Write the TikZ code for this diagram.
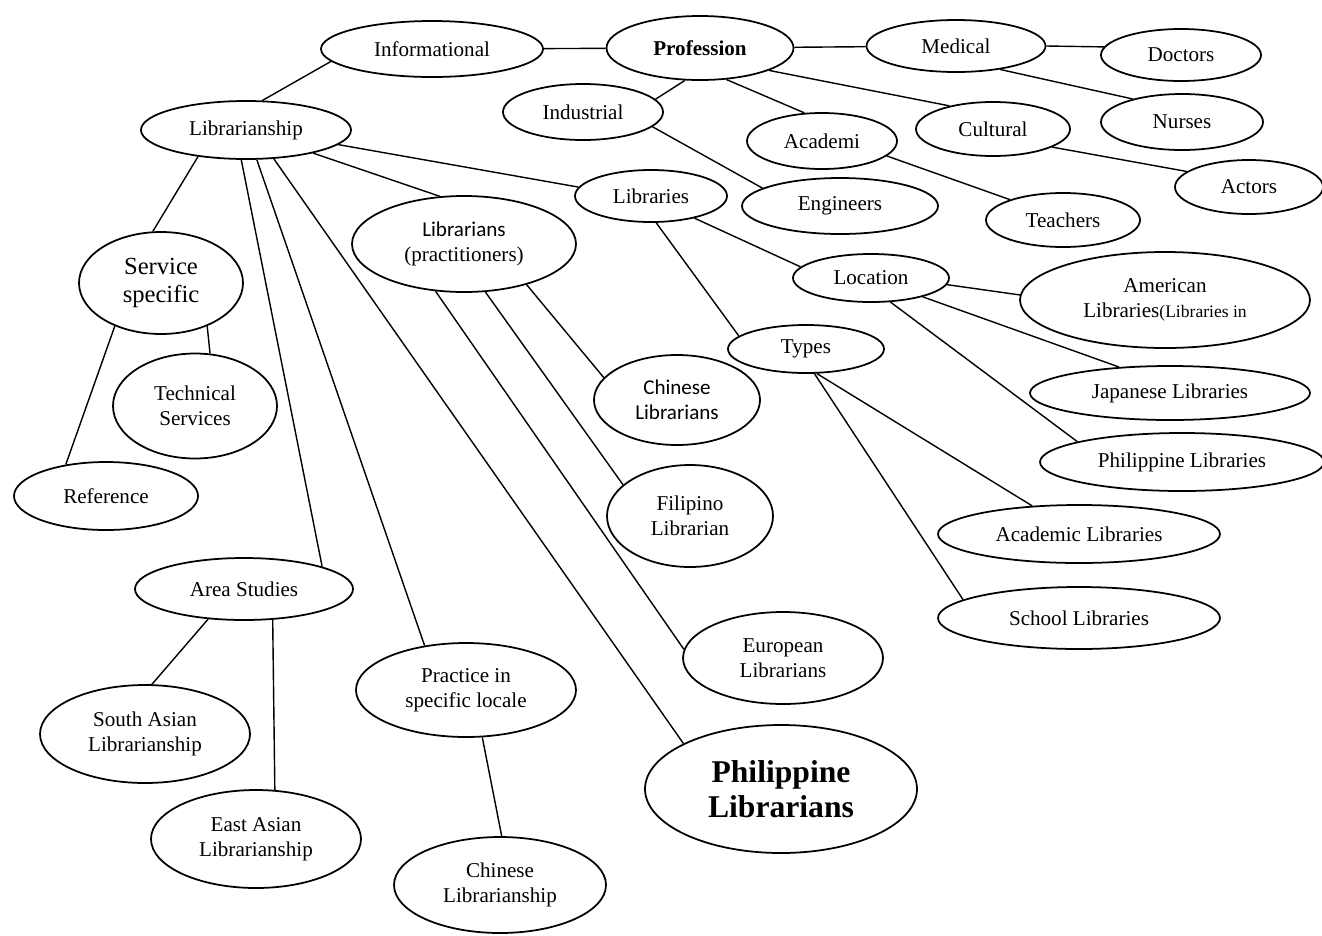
\documentclass[tikz,border=0pt]{standalone}
\usepackage{fontspec}
\setmainfont{Liberation Serif}
\newfontfamily\calib{Carlito}
\usetikzlibrary{shapes.geometric}

\begin{document}
\begin{tikzpicture}[
        every node/.style={align=center},
        bub/.style={draw, ellipse, line width=1pt, inner sep=0pt,
        font=\fontsize{12}{14}\selectfont},
        link/.style={line width=0.8pt}
      ]
    \useasboundingbox (0,0) rectangle (26.44,-18.7);
    % top row
    \node[bub, minimum width=4.44cm, minimum height=1.12cm] (info) at (8.64,-0.98) {Informational};
    \node[bub, minimum width=3.74cm, minimum height=1.28cm] (prof) at (14.0,-0.96) {\textbf{Profession}};
    \node[bub, minimum width=3.58cm, minimum height=1.04cm] (med) at (19.12,-0.92) {Medical};
    \node[bub, minimum width=3.2cm, minimum height=1.04cm] (doc) at (23.62,-1.10) {Doctors};
    \node[bub, minimum width=3.24cm, minimum height=1.12cm] (nurse) at (23.64,-2.44) {Nurses};
    \node[bub, minimum width=3.2cm, minimum height=1.12cm] (ind) at (11.66,-2.24) {Industrial};
    \node[bub, minimum width=3.0cm, minimum height=1.12cm] (acad) at (16.44,-2.82) {Academi};
    \node[bub, minimum width=3.08cm, minimum height=1.08cm] (cult) at (19.86,-2.58) {Cultural};
    \node[bub, minimum width=2.96cm, minimum height=1.08cm] (act) at (24.98,-3.74) {Actors};
    \node[bub, minimum width=3.92cm, minimum height=1.12cm] (eng) at (16.8,-4.12) {Engineers};
    \node[bub, minimum width=3.08cm, minimum height=1.08cm] (teach) at (21.26,-4.4) {Teachers};
    % librarianship branch
    \node[bub, minimum width=4.2cm, minimum height=1.16cm] (lship) at (4.92,-2.6) {Librarianship};
    \node[bub, minimum width=3.04cm, minimum height=1.04cm] (libs) at (13.02,-3.92) {Libraries};
    \node[bub, minimum width=4.48cm, minimum height=1.92cm] (lians) at (9.28,-4.88)
    {{\calib Librarians}\\(practitioners)};
    \node[bub, minimum width=3.12cm, minimum height=0.96cm] (loc) at (17.42,-5.56) {Location};
    \node[bub, minimum width=5.8cm, minimum height=1.92cm] (amer) at (23.3,-6.0)
    {American\\Libraries{\fontsize{10}{12}\selectfont(Libraries in}};
    \node[bub, minimum width=3.12cm, minimum height=0.96cm] (types) at (16.12,-6.98) {Types};
    \node[bub, minimum width=5.6cm, minimum height=1.08cm] (jap) at (23.4,-7.86) {Japanese Libraries};
    \node[bub, minimum width=5.68cm, minimum height=1.16cm] (phl) at (23.64,-9.24) {Philippine Libraries};
    \node[bub, minimum width=5.64cm, minimum height=1.16cm] (acl) at (21.58,-10.68) {Academic Libraries};
    \node[bub, minimum width=5.64cm, minimum height=1.24cm] (sch) at (21.58,-12.36) {School Libraries};
    \node[bub, minimum width=3.32cm, minimum height=1.8cm] (chl) at (13.54,-8.0)
    {\calib Chinese\\\calib Librarians};
    \node[bub, minimum width=3.32cm, minimum height=2.04cm] (fil) at (13.8,-10.32) {Filipino\\Librarian};
    \node[bub, minimum width=4.0cm, minimum height=1.84cm] (eur) at (15.66,-13.16) {European\\Librarians};
    % left side
    \node[bub, minimum width=3.28cm, minimum height=2.04cm,
    font=\fontsize{14}{16}\selectfont] (serv) at (3.22,-5.66) {Service\\specific};
    \node[bub, minimum width=3.28cm, minimum height=2.1cm] (tech) at (3.9,-8.12) {Technical\\Services};
    \node[bub, minimum width=3.68cm, minimum height=1.36cm] (ref) at (2.12,-9.92) {Reference};
    \node[bub, minimum width=4.36cm, minimum height=1.24cm] (area) at (4.88,-11.78) {Area Studies};
    \node[bub, minimum width=4.2cm, minimum height=1.96cm] (sas) at (2.9,-14.68) {South Asian\\Librarianship};
    \node[bub, minimum width=4.2cm, minimum height=1.96cm] (eas) at (5.12,-16.78) {East Asian\\Librarianship};
    \node[bub, minimum width=4.4cm, minimum height=1.88cm] (prac) at (9.32,-13.8) {Practice in\\specific locale};
    \node[bub, minimum width=4.24cm, minimum height=1.92cm] (chlship) at (10.0,-17.7) {Chinese\\Librarianship};
    \node[bub, minimum width=5.44cm, minimum height=2.56cm,
    font=\fontsize{18}{20}\selectfont\bfseries] (phlib) at (15.62,-15.78) {Philippine\\Librarians};
    % connectors
    \draw[link] (info) -- (prof);
    \draw[link] (prof) -- (med);
    \draw[link] (med.east) -- (doc.174);
    \draw[link] (med.-28) -- (nurse.155);
    \draw[link] (prof.245) -- (ind.10);
    \draw[link] (prof.-50) -- (acad.122);
    \draw[link] (prof.-18) -- (cult.152);
    \draw[link] (info.187) -- (lship.61);
    \draw[link] (ind.-12) -- (eng.167);
    \draw[link] (acad.-13) -- (teach.159);
    \draw[link] (cult.-17) -- (act.166);
    \draw[link] (lship.-9) -- (libs.173);
    \draw[link] (lship.-19) -- (lians.117);
    \draw[link] (lship.209) -- (serv.99);
    \draw[link] (lship.-99) -- (area.16);
    \draw[link] (lship.-70) -- (prac.133);
    \draw[link] (lship.-46) -- (phlib.155);
    \draw[link] (libs.-27) -- (loc.171);
    \draw[link] (libs.-79) -- (types.169);
    \draw[link] (loc.-5) -- (amer.178);
    \draw[link] (loc.-20) -- (jap.153);
    \draw[link] (loc.-51) -- (phl.169);
    \draw[link] (types.-66) -- (acl.149);
    \draw[link] (types.-71) -- (sch.171);
    \draw[link] (lians.-33) -- (chl.163);
    \draw[link] (lians.-66) -- (fil.155);
    \draw[link] (lians.-121) -- (eur.175);
    \draw[link] (serv.-43) -- (tech.74);
    \draw[link] (serv.-137) -- (ref.142);
    \draw[link] (area.-140) -- (sas.82);
    \draw[link] (area.-47) -- (eas.69);
    \draw[link] (prac.-71) -- (chlship.88);
\end{tikzpicture}
\end{document}
